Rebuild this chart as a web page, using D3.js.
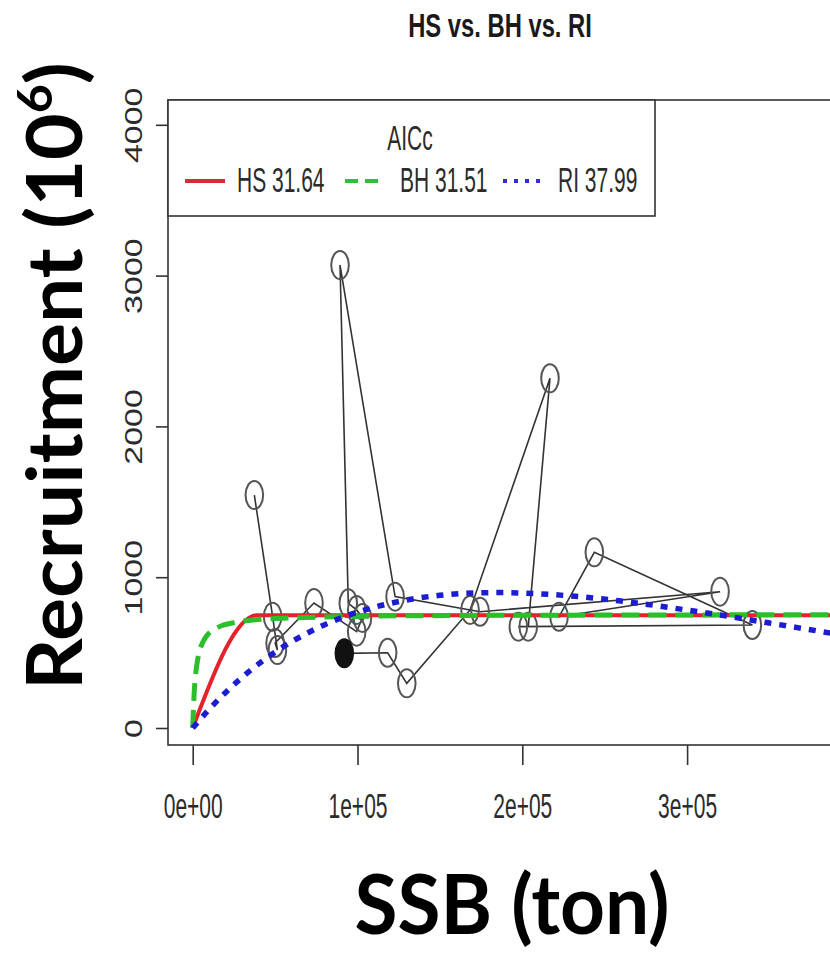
<!DOCTYPE html>
<html>
<head>
<meta charset="utf-8">
<script src="https://cdn.jsdelivr.net/npm/d3@7"></script>
<style>
  html, body { margin: 0; padding: 0; background: #fff; }
  svg { display: block; }
</style>
</head>
<body>
<div id="chart"></div>
<script>
// Stock–recruitment observations, in year order (last year drawn filled)
const ssb = [37400, 48500, 51400, 50000, 73600, 99500, 103000, 99500, 94400, 89400,
             122800, 174400, 320000, 222300, 243700, 339600, 197600, 203600, 216800,
             168300, 129900, 118300, 92000];
const recruits = [1545, 738, 517, 564, 829, 639, 730, 783, 827, 3070,
                  871, 771, 904, 738, 1165, 683, 672, 672, 2319,
                  783, 296, 499, 495];

// Fitted curves (SSB, predicted recruitment)
const hsSSB = [0, 39000, 420000];
const hsRec = [0, 748, 748];
const bhSSB = [0, 1000, 2000, 3000, 4500, 6500, 9000, 13000, 18000, 25000, 35000,
               50000, 75000, 110000, 160000, 250000, 420000];
const bhRec = [0, 252, 378, 453, 523, 577, 618, 654, 680, 699, 714,
               726, 735, 742, 746, 749, 751];
const riSSB = [0, 10000, 20000, 35000, 50000, 70000, 90000, 110000, 130000, 150000,
               170000, 185000, 200000, 230000, 260000, 290000, 320000, 350000, 380000, 420000];
const riRec = [0, 124, 236, 382, 503, 632, 730, 800, 849, 880,
               895, 898, 895, 875, 842, 798, 749, 696, 642, 570];

// Axis ticks
const xTicks = [0, 100000, 200000, 300000];
const xTickLabels = ["0e+00", "1e+05", "2e+05", "3e+05"];
const yTicks = [0, 1000, 2000, 3000, 4000];
const yTickLabels = ["0", "1000", "2000", "3000", "4000"];

// Legend entries
const legendTitle = "AICc";
const legendLabels = ["HS 31.64", "BH 31.51", "RI 37.99"];

const W = 830, H = 953;
const box = { left: 168, top: 100, right: 880, bottom: 745 };
const narrow = 0.6;           // horizontal squeeze of the plot's own lettering
const ink = "#2b2b2b";

const svg = d3.select("#chart").append("svg")
  .attr("width", W).attr("height", H)
  .attr("viewBox", `0 0 ${W} ${H}`);

const x = d3.scaleLinear().domain([0, 400000]).range([192.7, 851.9]);
const y = d3.scaleLinear().domain([0, 4000]).range([728, 124.8]);

svg.append("defs").append("clipPath").attr("id", "plotClip")
  .append("rect")
  .attr("x", box.left).attr("y", box.top)
  .attr("width", box.right - box.left).attr("height", box.bottom - box.top);

// Title
svg.append("text")
  .attr("transform", `translate(500,37) scale(0.71,1)`)
  .attr("text-anchor", "middle")
  .attr("font-family", "Liberation Sans, Arial, sans-serif")
  .attr("font-weight", "bold")
  .attr("font-size", 33.5)
  .attr("fill", "#1a1a1a")
  .text("HS vs. BH vs. RI");

const plot = svg.append("g").attr("clip-path", "url(#plotClip)");

// Observations joined in time order
const obs = ssb.map((s, i) => ({ s, r: recruits[i], last: i === ssb.length - 1 }));
plot.append("path")
  .datum(obs)
  .attr("fill", "none")
  .attr("stroke", "#333")
  .attr("stroke-width", 1.6)
  .attr("d", d3.line().x(d => x(d.s)).y(d => y(d.r)));

plot.selectAll("ellipse.obs")
  .data(obs)
  .join("ellipse")
  .attr("class", "obs")
  .attr("cx", d => x(d.s))
  .attr("cy", d => y(d.r))
  .attr("rx", 8.8)
  .attr("ry", 14)
  .attr("fill", d => d.last ? "#111" : "none")
  .attr("stroke", d => d.last ? "#111" : "#555")
  .attr("stroke-width", 2);

// Model curves
const curve = d3.line().x(d => x(d[0])).y(d => y(d[1])).curve(d3.curveMonotoneX);
const models = [
  { s: hsSSB, r: hsRec, color: "#e3222b", width: 4, dash: null },
  { s: bhSSB, r: bhRec, color: "#2cbf2c", width: 5, dash: "18,9" },
  { s: riSSB, r: riRec, color: "#1c1cd0", width: 5.5, dash: "7,8" }
];
models.forEach(m => {
  plot.append("path")
    .datum(m.s.map((s, i) => [s, m.r[i]]))
    .attr("fill", "none")
    .attr("stroke", m.color)
    .attr("stroke-width", m.width)
    .attr("stroke-dasharray", m.dash)
    .attr("stroke-linejoin", "round")
    .attr("d", curve);
});

// Plot frame
svg.append("rect")
  .attr("x", box.left).attr("y", box.top)
  .attr("width", box.right - box.left).attr("height", box.bottom - box.top)
  .attr("fill", "none").attr("stroke", "#333").attr("stroke-width", 1.6);

// Axes
const yAxis = svg.append("g")
  .attr("transform", `translate(${box.left},0)`)
  .call(d3.axisLeft(y).tickValues(yTicks).tickSize(12).tickSizeOuter(0)
    .tickFormat((d, i) => yTickLabels[i]));
const xAxis = svg.append("g")
  .attr("transform", `translate(0,${box.bottom})`)
  .call(d3.axisBottom(x).tickValues(xTicks).tickSize(20).tickSizeOuter(0)
    .tickFormat((d, i) => xTickLabels[i]));

[yAxis, xAxis].forEach(a => {
  a.select(".domain").remove();
  a.selectAll(".tick line").attr("stroke", "#333").attr("stroke-width", 1.6);
  a.selectAll(".tick text")
    .attr("font-family", "Liberation Sans, Arial, sans-serif")
    .attr("font-size", 35)
    .attr("fill", ink)
    .attr("x", 0).attr("y", 0).attr("dy", null)
    .attr("text-anchor", "middle");
});
yAxis.selectAll(".tick text")
  .attr("font-size", 34)
  .attr("transform", `translate(-26.5,0) scale(0.7,1) rotate(-90)`);
xAxis.selectAll(".tick text")
  .attr("transform", `translate(0,73) scale(${narrow},1)`);

// Legend
const lg = svg.append("g");
lg.append("rect")
  .attr("x", box.left).attr("y", box.top)
  .attr("width", 487).attr("height", 116)
  .attr("fill", "#fff").attr("stroke", "#333").attr("stroke-width", 1.6);
const lgText = (t, tx, ty, anchor) => lg.append("text")
  .attr("transform", `translate(${tx},${ty}) scale(${narrow},1)`)
  .attr("text-anchor", anchor)
  .attr("font-family", "Liberation Sans, Arial, sans-serif")
  .attr("font-size", 35)
  .attr("fill", ink)
  .text(t);
lgText(legendTitle, 410, 150, "middle");
const keyX = [[185, 225, 237], [345, 378, 400], [503, 541, 558]];
const keyStyle = [
  { color: "#d92a36", width: 4, dash: null },
  { color: "#33bb44", width: 4, dash: "13,7" },
  { color: "#3030c8", width: 4, dash: "4,7" }
];
legendLabels.forEach((t, i) => {
  lg.append("line")
    .attr("x1", keyX[i][0]).attr("x2", keyX[i][1])
    .attr("y1", 181).attr("y2", 181)
    .attr("stroke", keyStyle[i].color)
    .attr("stroke-width", keyStyle[i].width)
    .attr("stroke-dasharray", keyStyle[i].dash);
  lgText(t, keyX[i][2], 192, "start");
});

// Large axis titles
svg.append("text")
  .attr("x", 512).attr("y", 934)
  .attr("text-anchor", "middle")
  .attr("font-family", "Lato, 'Open Sans', sans-serif")
  .attr("font-weight", "bold")
  .attr("font-size", 82)
  .attr("fill", "#000")
  .attr("textLength", 315)
  .attr("lengthAdjust", "spacingAndGlyphs")
  .text("SSB (ton)");

const yTitle = svg.append("text")
  .attr("text-anchor", "middle")
  .attr("font-family", "Lato, 'Open Sans', sans-serif")
  .attr("font-weight", "bold")
  .attr("font-size", 77)
  .attr("fill", "#000");
yTitle.append("tspan").text("Recruitment (10");
yTitle.append("tspan").attr("font-size", 48).attr("dy", -30).text("6");
yTitle.append("tspan").attr("dy", 30).text(")");
const yLen = yTitle.node().getComputedTextLength();
yTitle.attr("transform", `translate(82,376) rotate(-90) scale(${628 / yLen},1)`);
</script>
</body>
</html>
